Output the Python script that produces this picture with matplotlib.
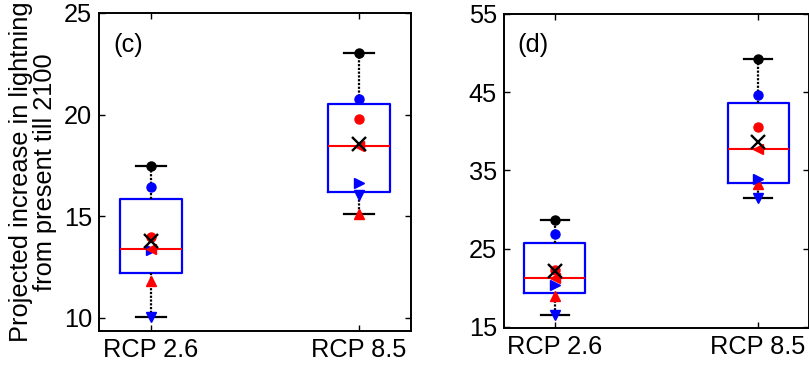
import numpy as np
import matplotlib
matplotlib.use("Agg")
import matplotlib.pyplot as plt

plt.rcParams['font.family'] = ['Liberation Sans', 'DejaVu Sans']

# scenarios on the x axis
scenarios = ["RCP 2.6", "RCP 8.5"]

# one value per model, same model order in every list
# (black circle, blue circle, red circle, red left tri, blue right tri, red up tri, blue down tri)
c_rcp26 = [17.49, 16.46, 14.0, 13.4, 13.34, 11.82, 10.06]
c_rcp85 = [23.05, 20.77, 19.77, 18.47, 16.62, 15.1, 16.05]
d_rcp26 = [28.7, 26.9, 22.3, 21.25, 20.4, 18.9, 16.5]
d_rcp85 = [49.2, 44.6, 40.6, 37.7, 33.85, 33.2, 31.5]

model_markers = ['o', 'o', 'o', '<', '>', '^', 'v']
model_colors = ['black', 'blue', 'red', 'red', 'blue', 'red', 'blue']


def box_stats(vals):
    v = np.array(vals)
    q1, med, q3 = np.percentile(v, [25, 50, 75], method='hazen')
    return dict(med=med, q1=q1, q3=q3, whislo=v.min(), whishi=v.max(), fliers=[])


def draw_panel(ax, groups, ylim, yticks, tag):
    pos = np.arange(1, len(groups) + 1)
    ax.bxp([box_stats(g) for g in groups], positions=pos, widths=0.3,
           capwidths=0.14, showfliers=False,
           boxprops=dict(color='blue', linewidth=1.6),
           medianprops=dict(color='red', linewidth=1.5),
           whiskerprops=dict(color='black', linewidth=1.6, linestyle=(0, (1.0, 0.7))),
           capprops=dict(color='black', linewidth=1.6))
    for p, g in zip(pos, groups):
        for v, m, c in zip(g[::-1], model_markers[::-1], model_colors[::-1]):
            ax.plot(p, v, marker=m, color=c, markersize=6.5, linestyle='none', zorder=4)
        ax.plot(p, np.mean(g), marker='x', color='black', markersize=10,
                markeredgewidth=1.7, linestyle='none', zorder=5)
    ax.set_xlim(0.75, 2.25)
    ax.set_ylim(*ylim)
    ax.set_yticks(yticks)
    ax.set_xticks(pos)
    ax.set_xticklabels(scenarios)
    ax.tick_params(direction='in', top=True, right=True, length=4, width=1,
                   labelsize=18.3, pad=5)
    for s in ax.spines.values():
        s.set_linewidth(1.4)
    ax.text(0.045, 0.9, tag, transform=ax.transAxes, fontsize=18.3,
            ha='left', va='center')


fig = plt.figure(figsize=(8.09, 3.69), dpi=100)
ax1 = fig.add_axes([99 / 809, 1 - 331 / 369, 312 / 809, 318 / 369])
ax2 = fig.add_axes([504 / 809, 1 - 328 / 369, 305 / 809, 314 / 369])

draw_panel(ax1, [c_rcp26, c_rcp85], (9.36, 25), [10, 15, 20, 25], "(c)")
draw_panel(ax2, [d_rcp26, d_rcp85], (14.85, 55), [15, 25, 35, 45, 55], "(d)")

ax1.set_ylabel("Projected increase in lightning\nfrom present till 2100",
               fontsize=18.3, labelpad=5, linespacing=1.0)

fig.savefig("out.png", dpi=100)
